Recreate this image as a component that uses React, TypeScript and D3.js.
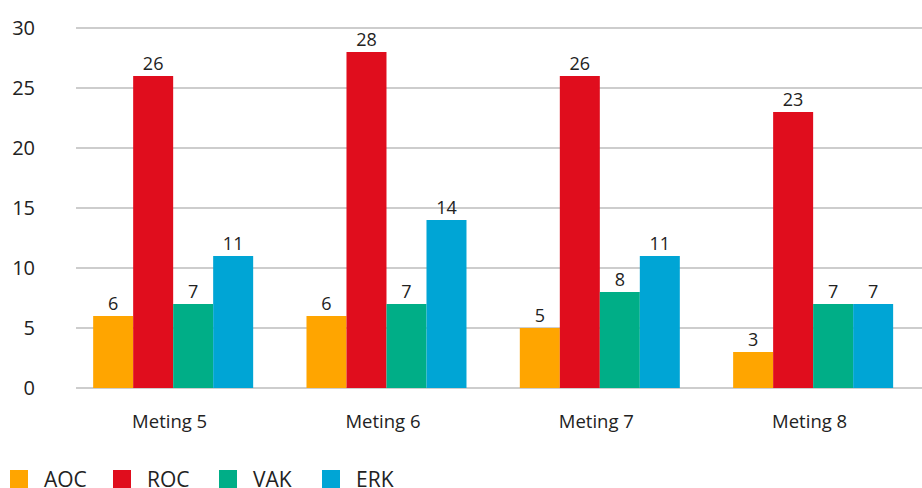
import React from "react";
import * as d3 from "d3";

const categories = ["Meting 5", "Meting 6", "Meting 7", "Meting 8"];
const seriesNames = ["AOC", "ROC", "VAK", "ERK"];
const aoc = [6, 6, 5, 3];
const roc = [26, 28, 26, 23];
const vak = [7, 7, 8, 7];
const erk = [11, 14, 11, 7];
const yTicks = [0, 5, 10, 15, 20, 25, 30];
const colors = ["#FFA500", "#E00D1D", "#00AE87", "#00A5D5"];

const W = 922;
const H = 488;

export default function App() {
  const values = [aoc, roc, vak, erk];
  const y = d3.scaleLinear().domain([0, 30]).range([388, 28]);
  const x0 = d3.scaleBand<string>().domain(categories).range([66.5, 919.8]).paddingInner(0).paddingOuter(0);
  const inner = d3.scaleBand<string>().domain(seriesNames).range([0, 160]);
  const groupOffset = (x0.bandwidth() - 160) / 2;
  const font = "'Open Sans', sans-serif";
  return (
    <svg width={W} height={H} style={{ position: "absolute", left: 0, top: 0, background: "#fff" }} fontFamily={font}>
      {yTicks.map((t) => (
        <g key={t}>
          <line x1={76} x2={922} y1={y(t)} y2={y(t)} stroke="#BDBDBD" strokeWidth={1.5} />
          <text x={35} y={y(t) + 7} textAnchor="end" fontSize={20} fill="#222">{t}</text>
        </g>
      ))}
      {categories.map((c, ci) => (
        <g key={c}>
          {seriesNames.map((s, si) => {
            const v = values[si][ci];
            const bx = (x0(c) as number) + groupOffset + (inner(s) as number);
            return (
              <g key={s}>
                <rect x={bx} y={y(v)} width={inner.bandwidth()} height={y(0) - y(v)} fill={colors[si]} />
                <text x={bx + inner.bandwidth() / 2} y={y(v) - 6.5} textAnchor="middle" fontSize={18} fill="#222">{v}</text>
              </g>
            );
          })}
          <text x={(x0(c) as number) + x0.bandwidth() / 2 - 3.5} y={427.5} textAnchor="middle" fontSize={18.5} fill="#222">{c}</text>
        </g>
      ))}
      {seriesNames.map((s, si) => {
        const lx = [10, 113, 219, 322][si];
        return (
          <g key={s}>
            <rect x={lx} y={470} width={18} height={18} fill={colors[si]} />
            <text x={lx + 34} y={486.5} fontSize={21} fill="#222">{s}</text>
          </g>
        );
      })}
    </svg>
  );
}
